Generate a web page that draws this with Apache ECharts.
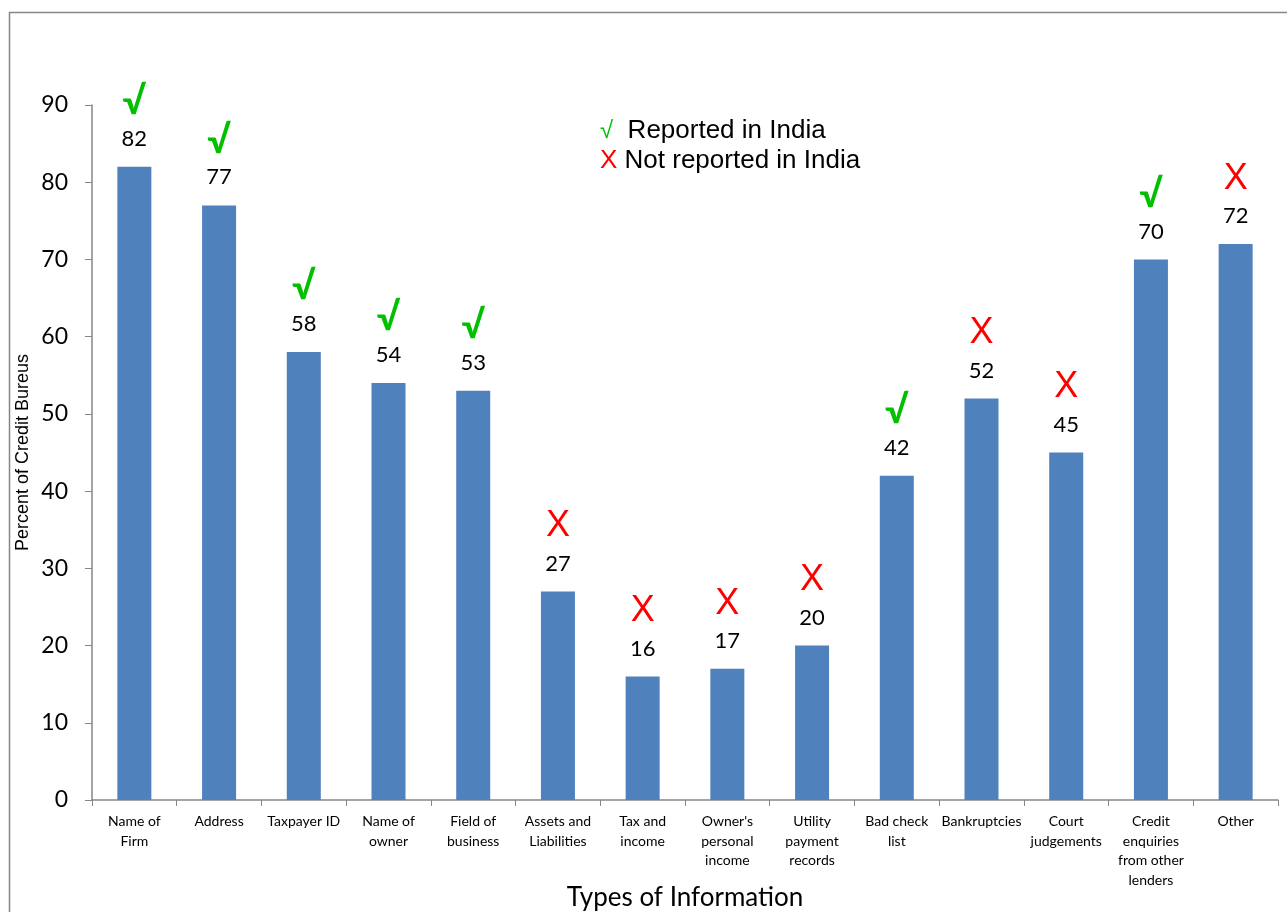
<!DOCTYPE html>
<html>
<head>
<meta charset="utf-8">
<script src="https://cdn.jsdelivr.net/npm/echarts@6/dist/echarts.min.js"></script>
<style>
html,body{margin:0;padding:0;background:#fff;}
#mainChart{width:1287px;height:912px;}
</style>
</head>
<body>
<div id="mainChart"></div>
<script>
'use strict'
var categories = ['Name of\nFirm', 'Address', 'Taxpayer ID', 'Name of\nowner', 'Field of\nbusiness',
    'Assets and\nLiabilities', 'Tax and\nincome', "Owner's\npersonal\nincome", 'Utility\npayment\nrecords',
    'Bad check\nlist', 'Bankruptcies', 'Court\njudgements', 'Credit\nenquiries\nfrom other\nlenders', 'Other'];
var percents = [82, 77, 58, 54, 53, 27, 16, 17, 20, 42, 52, 45, 70, 72];
// true = reported in India
var reported = [true, true, true, true, true, false, false, false, false, true, false, false, true, false];
var yTicks = [0, 10, 20, 30, 40, 50, 60, 70, 80, 90];

var myChart = echarts.init(document.getElementById('mainChart'));
myChart.setOption({
    animation: false,
    grid: {left: 92, right: 9, top: 105, bottom: 112, outerBoundsMode: 'none', containLabel: false},
    graphic: [
        {type: 'rect', left: 7, top: 10, shape: {width: 1400, height: 1000},
            style: {fill: 'none', stroke: '#868686', lineWidth: 1.5}},
        {type: 'text', left: 600, top: 118,
            style: {text: '{g|√}  Reported in India', font: '26px "Liberation Sans", Arial', fill: '#000',
                rich: {g: {fill: '#00c000', font: '24px "Liberation Sans", Arial'}}}},
        {type: 'text', left: 600, top: 148,
            style: {text: '{r|X} Not reported in India', font: '26px "Liberation Sans", Arial', fill: '#000',
                rich: {r: {fill: '#ff0000', font: '26px "Liberation Sans", Arial'}}}}
    ],
    xAxis: {
        type: 'category',
        data: categories,
        name: 'Types of Information',
        nameLocation: 'middle',
        nameGap: 85,
        nameMoveOverlap: false,
        nameTextStyle: {fontSize: 26, color: '#000', fontFamily: 'Lato'},
        axisLine: {lineStyle: {color: '#868686', width: 1.5}},
        axisTick: {show: true, length: 6, lineStyle: {color: '#868686'}},
        axisLabel: {interval: 0, fontSize: 14, lineHeight: 19.5, color: '#000', fontFamily: 'Lato', margin: 12}
    },
    yAxis: {
        type: 'value',
        min: 0,
        max: yTicks[yTicks.length - 1],
        interval: 10,
        name: 'Percent of Credit Bureus',
        nameLocation: 'middle',
        nameGap: 60,
        nameMoveOverlap: false,
        nameTextStyle: {fontSize: 18, color: '#000', fontFamily: '"Liberation Sans", Arial'},
        splitLine: {show: false},
        axisLine: {show: true, lineStyle: {color: '#868686', width: 1.5}},
        axisTick: {show: true, inside: false, length: 7, lineStyle: {color: '#868686'}},
        axisLabel: {fontSize: 23, color: '#000', fontFamily: 'Lato', margin: 24}
    },
    series: [{
        type: 'bar',
        barWidth: 34,
        data: percents.map(function (v, i) {
            return {
                value: v,
                label: {
                    formatter: (reported[i] ? '{ok|√}' : '{no|X}') + '\n{v|{c}}'
                }
            };
        }),
        itemStyle: {color: '#4f81bd'},
        label: {
            show: true,
            position: 'top',
            distance: 14,
            rich: {
                ok: {fontSize: 38, fontWeight: 'bold', color: '#00c000', fontFamily: 'Lato', lineHeight: 46},
                no: {fontSize: 36, color: '#ff0000', fontFamily: '"Liberation Sans", Arial', lineHeight: 46},
                v: {fontSize: 22, color: '#000', fontFamily: 'Lato', lineHeight: 28}
            }
        }
    }]
});
</script>
</body>
</html>
